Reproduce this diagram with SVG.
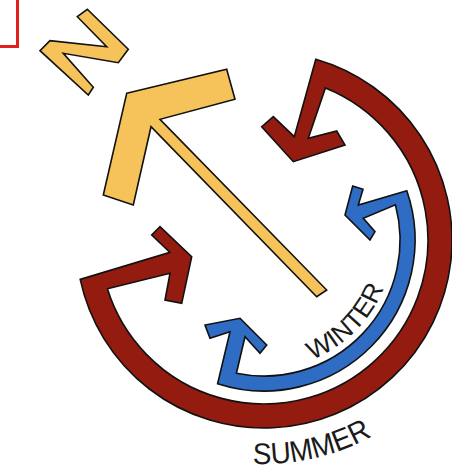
<svg xmlns="http://www.w3.org/2000/svg" width="452" height="469" viewBox="0 0 452 469">
<style>
.ol{stroke:#111;stroke-width:1.6;stroke-linejoin:miter}
.yel{fill:#F5C35A}
.red{fill:#931B0F}
.blu{fill:#2F6CC4}
.lbl{font-family:"Liberation Sans",Arial,sans-serif;fill:#1a1a1a}
</style>
<defs>
<path id="winterArc" d="M 290.8,366.2 A 129 129 0 0 0 390.2,266.8"/>
<path id="summerArc" d="M 207.9,456.9 A 224 224 0 0 0 409.5,410.3"/>
</defs>
<rect width="452" height="469" fill="#ffffff"/>
<g id="frame">
<path d="M 0,46.5 H 17.5 V 0" fill="none" stroke="#E0201C" stroke-width="3"/>
</g>
<g id="north-letter">
<polygon class="yel ol" points="77.3,16.7 87.3,9.3 128.3,49.3 118.3,62.7 63.3,53.3 93.3,87.3 88.3,95 40,50.7 50,40.7 106.7,46.7"/>
</g>
<g id="north-arrow">
<polygon class="yel ol" points="126.7,93.3 226.7,69.3 235,99.3 160,119.3 326.7,290 316.7,296.7 151,126.7 133.3,205 103.3,195"/>
</g>
<g id="connectors">
<g id="summer-arc">
<path class="red ol" d="M 80.2,279.4 A 188 188 0 1 0 315.8,59.3 L 294.3,136.7 L 273.3,116.7 L 261.7,126.7 L 293.3,161.7 L 345,145 L 336.7,131 L 308.3,138.3 L 325.4,87.9 A 164 164 0 1 1 107.4,288.8 L 170,273.3 L 165,300 L 181.7,303.3 L 191.7,256.7 L 160,226.7 L 151.7,235 L 170,252.3 Z"/>
</g>
<g id="winter-arc">
<path class="blu ol" d="M 406.8,190.8 L 358.3,205 L 363,189.3 L 352.7,186 L 345,215 L 370,240 L 375,231.7 L 363.3,218.3 L 395.4,204.8 A 136 136 0 0 1 236.4,373.2 L 245,336.7 L 260,353.3 L 266.7,345 L 240,318.3 L 205,325 L 210,338.3 L 230,331.7 L 217.6,383.7 A 151 151 0 0 0 406.8,190.8 Z"/>
</g>
</g>
<g id="winter-label">
<text class="lbl" font-size="26"><textPath href="#winterArc" startOffset="50%" text-anchor="middle" textLength="104" lengthAdjust="spacingAndGlyphs">WINTER</textPath></text>
</g>
<g id="summer-label">
<text class="lbl" font-size="30"><textPath href="#summerArc" startOffset="50%" text-anchor="middle" textLength="124" lengthAdjust="spacingAndGlyphs">SUMMER</textPath></text>
</g>
</svg>
